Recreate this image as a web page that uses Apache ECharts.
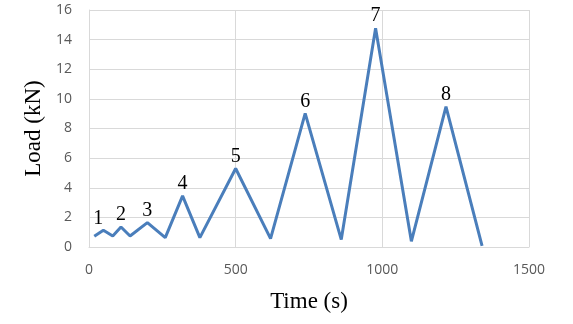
<!DOCTYPE html>
<html>
<head>
<meta charset="utf-8">
<script src="https://cdn.jsdelivr.net/npm/echarts@6/dist/echarts.min.js"></script>
<style>
  html, body { margin: 0; padding: 0; background: #fff; }
  #chart { width: 573px; height: 324px; }
</style>
</head>
<body>
<div id="chart"></div>
<script>
// 时间 (s) 与 荷载 (kN)
var times = [18, 49, 81, 109, 140, 199, 260, 319, 378, 500, 619, 737, 860, 977, 1099, 1217, 1340]
var loads = [0.72, 1.13, 0.74, 1.35, 0.74, 1.65, 0.63, 3.45, 0.63, 5.3, 0.57, 9.02, 0.5, 14.77, 0.38, 9.47, 0.07]
// 峰值编号: 数据下标 -> 标签
var peakIndex = [1, 3, 5, 7, 9, 11, 13, 15]
var peakNames = ['1', '2', '3', '4', '5', '6', '7', '8']
var xTicks = [0, 500, 1000, 1500]

var gridColor = '#d9d9d9'
var tickColor = '#595959'

var seriesData = times.map(function (t, i) {
  var item = { value: [t, loads[i]] }
  var k = peakIndex.indexOf(i)
  if (k >= 0) {
    item.label = {
      show: true,
      position: 'top',
      distance: 2,
      formatter: peakNames[k],
      offset: k === 0 ? [-5, 0] : [0, 0]
    }
  }
  return item
})

var chart = echarts.init(document.getElementById('chart'))
chart.setOption({
  animation: false,
  grid: { left: 89, right: 44, top: 10, bottom: 77, containLabel: false },
  xAxis: {
    type: 'value',
    min: 0,
    max: 1500,
    interval: 500,
    name: 'Time (s)',
    nameLocation: 'middle',
    nameGap: 43,
    nameTextStyle: { fontFamily: 'Liberation Serif', fontSize: 23, color: '#000' },
    axisLine: { show: true, lineStyle: { color: gridColor, width: 1 } },
    axisTick: { show: false },
    axisLabel: {
      color: tickColor,
      fontFamily: 'Open Sans',
      fontSize: 14,
      margin: 16,
      formatter: function (v) { return xTicks.indexOf(v) >= 0 ? v : '' }
    },
    splitLine: { show: true, lineStyle: { color: gridColor, width: 1 } }
  },
  yAxis: {
    type: 'value',
    min: 0,
    max: 16,
    interval: 2,
    name: 'Load (kN)',
    nameLocation: 'middle',
    nameGap: 40,
    nameTextStyle: { fontFamily: 'Liberation Serif', fontSize: 23, color: '#000' },
    axisLine: { show: true, lineStyle: { color: gridColor, width: 1 } },
    axisTick: { show: false },
    axisLabel: { color: tickColor, fontFamily: 'Open Sans', fontSize: 14, margin: 17 },
    splitLine: { show: true, lineStyle: { color: gridColor, width: 1 } }
  },
  series: [{
    type: 'line',
    data: seriesData,
    showSymbol: true,
    symbol: 'circle',
    symbolSize: 0,
    lineStyle: { color: '#4a7ebb', width: 3 },
    itemStyle: { color: '#4a7ebb' },
    label: {
      color: '#000',
      fontFamily: 'Liberation Serif',
      fontSize: 20
    }
  }]
})
</script>
</body>
</html>
